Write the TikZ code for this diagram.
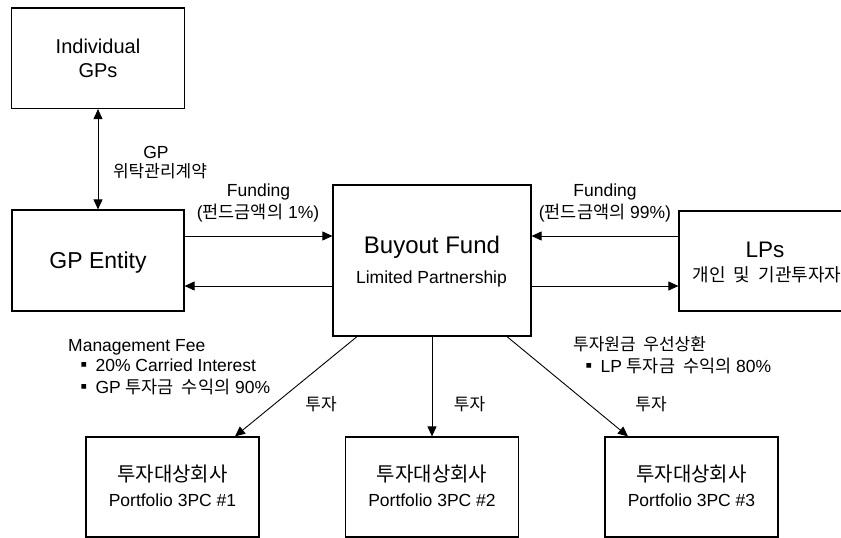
\documentclass[tikz,border=0pt]{standalone}
\usepackage{fontspec}
\setmainfont{Liberation Sans}
\newfontfamily\kr[WordSpace=2]{Noto Sans CJK KR}
\newcommand\K[1]{{\kr #1}}
\usetikzlibrary{arrows.meta}
\begin{document}
\begin{tikzpicture}[x=1pt,y=1pt,
  box/.style={draw, line width=1.2pt, inner sep=0, fill=white},
  arr/.style={-{Triangle[length=10pt,width=9pt]}, line width=0.9pt},
  darr/.style={{Triangle[length=10pt,width=9pt]}-{Triangle[length=10pt,width=9pt]}, line width=0.9pt},
  lbl/.style={inner sep=0, anchor=base, font=\fontsize{17.5}{20}\selectfont},
  lblw/.style={lbl, anchor=base west},
  big/.style={inner sep=0, anchor=base, font=\fontsize{24}{28}\selectfont},
  mid/.style={inner sep=0, anchor=base, font=\fontsize{20}{24}\selectfont},
]
\clip (0,0) rectangle (841,-538);
% boxes
\node[box, minimum width=173, minimum height=100.5] (igp) at (98,-58.25) {};
\node[box, minimum width=172, minimum height=101] (gpe) at (98,-260.5) {};
\node[box, minimum width=198, minimum height=151] (fund) at (432,-260.5) {};
\node[box, minimum width=168, minimum height=100] (lps) at (763,-261) {};
\node[box, minimum width=173, minimum height=100] (p1) at (172.5,-487) {};
\node[box, minimum width=173, minimum height=100] (p2) at (432,-487) {};
\node[box, minimum width=173, minimum height=100] (p3) at (691.5,-487) {};
% box texts
\node[mid] (t-ind) at (98,-53) {Individual};
\node[mid] (t-gps) at (98,-77.5) {GPs};
\node[big, font=\fontsize{23}{27}\selectfont] (t-gpe) at (98,-268) {GP Entity};
\node[big] (t-bf) at (432,-253.3) {Buyout Fund};
\node[lbl] (t-lp) at (431.5,-283.3) {Limited Partnership};
\node[big, font=\fontsize{22.5}{26}\selectfont] (t-lps) at (765,-257.3) {LPs};
\node[lbl, font=\fontsize{18}{20}\kr] (t-lpsk) at (767,-281.5) {개인 및 기관투자자};
\foreach \n/\x in {1/172.5, 2/432, 3/691.5}{
  \node[mid, font=\fontsize{20}{24}\kr] (t-pk\n) at (\x,-481.4) {투자대상회사};
  \node[lbl] (t-pp\n) at (\x,-506.7) {Portfolio 3PC \#\n};
}
% connectors
\draw[darr] (igp) -- (gpe);
\draw[arr] ([yshift=24.5]gpe.east) -- ([yshift=24.5]fund.west);
\draw[arr] ([yshift=-25.5]fund.west) -- ([yshift=-25.5]gpe.east);
\draw[arr] ([yshift=25]lps.west) -- ([yshift=24.5]fund.east);
\draw[arr] ([yshift=-25.5]fund.east) -- ([yshift=-25]lps.west);
\draw[arr] ([xshift=-75]fund.south) -- ([xshift=62.5]p1.north);
\draw[arr] (fund.south) -- (p2.north);
\draw[arr] ([xshift=75]fund.south) -- ([xshift=-63.5]p3.north);
% labels
\node[lbl] (l-gp) at (156,-158) {GP};
\node[lbl, font=\fontsize{17}{20}\kr] (l-wt) at (160,-177.5) {위탁관리계약};
\node[lbl] (l-f1) at (258.5,-196) {Funding};
\node[lbl] (l-f1b) at (258,-218.5) {(\K{펀드금액의} 1\%)};
\node[lbl] (l-f2) at (605,-196) {Funding};
\node[lbl] (l-f2b) at (605,-218.5) {(\K{펀드금액의} 99\%)};
\node[lblw] (l-mf) at (68,-351.5) {Management Fee};
\node[lblw] (l-ci) at (75,-371.5) {\K{▪}\,20\% Carried Interest};
\node[lblw] (l-gpr) at (75,-393) {\K{▪}\,GP \K{투자금 수익의} 90\%};
\node[lbl, font=\fontsize{17}{20}\kr] (l-i1) at (321,-410) {투자};
\node[lbl, font=\fontsize{17}{20}\kr] (l-i2) at (469.5,-410) {투자};
\node[lbl, font=\fontsize{17}{20}\kr] (l-i3) at (651,-410) {투자};
\node[lblw, font=\fontsize{17}{20}\kr] (l-pr) at (573,-350) {투자원금 우선상환};
\node[lblw] (l-lpr) at (580,-372) {\K{▪}\,LP \K{투자금 수익의} 80\%};
\end{tikzpicture}
\end{document}
